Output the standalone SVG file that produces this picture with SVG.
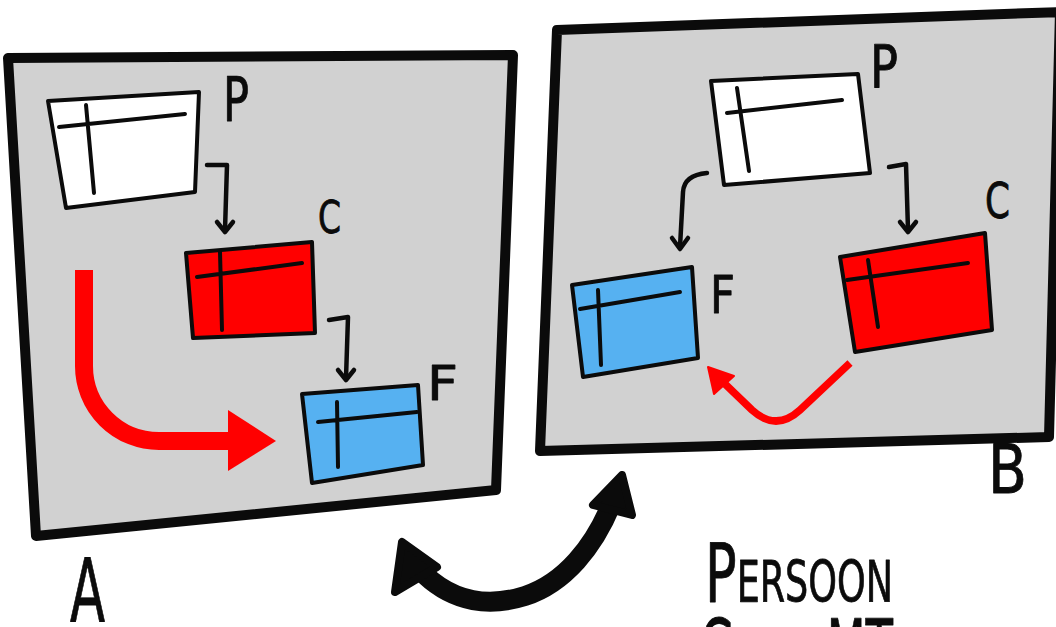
<svg xmlns="http://www.w3.org/2000/svg" width="1056" height="627" viewBox="0 0 1056 627">
  <style>
    .panel { fill: #d1d1d1; stroke: #0b0b0b; stroke-width: 10; stroke-linejoin: round; stroke-linecap: round; }
    .win { stroke: #0b0b0b; stroke-width: 4; stroke-linejoin: round; }
    .white { fill: #ffffff; }
    .red { fill: #ff0000; }
    .blue { fill: #56b1f1; }
    .grid { fill: none; stroke: #0b0b0b; stroke-width: 4; stroke-linecap: round; }
    .link { fill: none; stroke: #0b0b0b; stroke-width: 4.5; stroke-linecap: round; stroke-linejoin: round; }
    .label { font-family: "DejaVu Sans Condensed", "DejaVu Sans", "Liberation Sans", sans-serif; fill: #0b0b0b; stroke: #0b0b0b; stroke-width: 0.8; stroke-linejoin: round; }
    .title { font-variant: small-caps; }
  </style>

  <!-- Panel A -->
  <g id="panel-a">
    <polygon class="panel" points="8,58 513,55 496,490 36,536"/>
    <text class="label" x="70" y="621" font-size="88" textLength="35" lengthAdjust="spacingAndGlyphs">A</text>
  </g>

  <!-- Panel B -->
  <g id="panel-b">
    <polygon class="panel" points="557,30 1060,12 1049,437 540,451"/>
    <text class="label" x="988" y="493" font-size="68" textLength="39" lengthAdjust="spacingAndGlyphs">B</text>
  </g>

  <!-- Panel A windows -->
  <g id="a-p">
    <polygon class="win white" points="48,101 199,92 195,192 66,208"/>
    <path class="grid" d="M59,127 L185,114 M86,105 L94,193"/>
    <text class="label" x="223" y="121" font-size="60" textLength="26" lengthAdjust="spacingAndGlyphs">P</text>
  </g>
  <g id="a-c">
    <polygon class="win red" points="186,253 312,242 315,333 193,338"/>
    <path class="grid" d="M197,277 L302,263 M220,252 L222,330"/>
    <text class="label" x="318" y="233" font-size="45" textLength="23" lengthAdjust="spacingAndGlyphs">C</text>
  </g>
  <g id="a-f">
    <polygon class="win blue" points="302,394 418,385 423,465 312,483"/>
    <path class="grid" d="M318,422 L417,412 M337,402 L338,467"/>
    <text class="label" x="427" y="400" font-size="48" textLength="31" lengthAdjust="spacingAndGlyphs">F</text>
  </g>

  <!-- Panel B windows -->
  <g id="b-p">
    <polygon class="win white" points="711,81 858,74 870,173 724,185"/>
    <path class="grid" d="M727,113 L842,100 M737,88 L749,171"/>
    <text class="label" x="870" y="87" font-size="58" textLength="28" lengthAdjust="spacingAndGlyphs">P</text>
  </g>
  <g id="b-c">
    <polygon class="win red" points="840,257 985,233 992,330 855,352"/>
    <path class="grid" d="M847,280 L968,263 M868,260 L878,327"/>
    <text class="label" x="985" y="218" font-size="49" textLength="25" lengthAdjust="spacingAndGlyphs">C</text>
  </g>
  <g id="b-f">
    <polygon class="win blue" points="572,285 692,267 698,358 583,377"/>
    <path class="grid" d="M580,309 L680,292 M598,290 L601,365"/>
    <text class="label" x="710" y="313" font-size="52" textLength="25" lengthAdjust="spacingAndGlyphs">F</text>
  </g>

  <!-- Connectors -->
  <g id="connectors">
    <!-- A: P to C, C to F -->
    <path class="link" d="M207,165 L227,165 L225,230"/>
    <polyline class="link" points="217,222 225,232 233,222"/>
    <path class="link" d="M329,320 L348,317 L346,378"/>
    <polyline class="link" points="338,370 346,380 354,370"/>
    <!-- A: red flow -->
    <path d="M84,270 V366 A75,75 0 0 0 159,441 H232" fill="none" stroke="#ff0000" stroke-width="18"/>
    <polygon points="228,410 276,441 228,471" fill="#ff0000"/>

    <!-- B: P to F, P to C -->
    <path class="link" d="M707,173 Q684,175 683,192 L680,247"/>
    <polyline class="link" points="672,238 680,249 688,238"/>
    <path class="link" d="M889,167 L906,164 L908,230"/>
    <polyline class="link" points="900,222 908,232 916,222"/>
    <!-- B: red flow -->
    <path d="M850,363 L800,410 Q776,432 752,410 L724,383" fill="none" stroke="#ff0000" stroke-width="7.5"/>
    <polygon points="708,367 714,394 734,376" fill="#ff0000" stroke="#ff0000" stroke-width="2" stroke-linejoin="round"/>

    <!-- swap arrow between the panels -->
    <path d="M425,575 C455,603 490,607 525,596 C565,583 594,546 611,505" fill="none" stroke="#0b0b0b" stroke-width="20"/>
    <polygon points="402,542 395,592 437,567" fill="#0b0b0b" stroke="#0b0b0b" stroke-width="8" stroke-linejoin="round"/>
    <polygon points="622,475 593,505 632,515" fill="#0b0b0b" stroke="#0b0b0b" stroke-width="8" stroke-linejoin="round"/>
  </g>

  <!-- Caption -->
  <g id="caption">
    <text class="label title" x="705" y="602" font-size="82" textLength="188" lengthAdjust="spacingAndGlyphs">Persoon</text>
    <text class="label title" x="700" y="678" font-size="82" textLength="193" lengthAdjust="spacingAndGlyphs">Geval MT</text>
  </g>
</svg>
